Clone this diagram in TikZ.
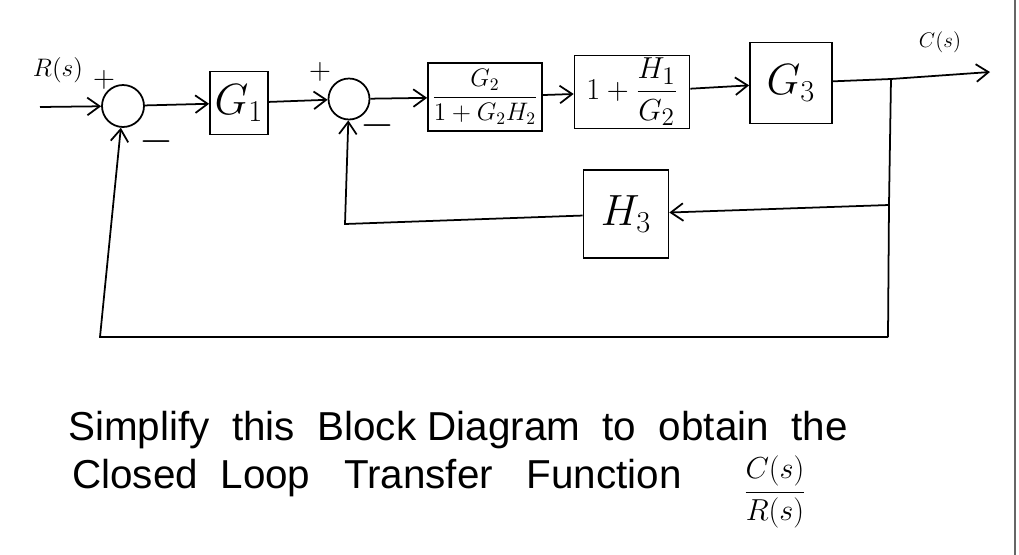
\documentclass[tikz,border=0pt]{standalone}
\usepackage{fontspec}
\setmainfont{Liberation Sans}
\usetikzlibrary{arrows.meta}
\begin{document}
\begin{tikzpicture}[x=0.02cm,y=-0.02cm,
  wire/.style={line width=1pt},
  arr/.style={wire,-{Straight Barb[length=7pt,width=10pt,line width=1pt]}},
  blk/.style={draw,line width=1pt,inner sep=0pt,align=center},
  sumj/.style={draw,circle,line width=1pt,minimum size=0.84cm,inner sep=0pt},
  lbl/.style={inner sep=0pt},
  big/.style={font=\fontsize{24}{28}\selectfont},
  mid/.style={font=\fontsize{17}{20}\selectfont},
  b3f/.style={font=\fontsize{19}{22}\selectfont},
  fr2/.style={font=\fontsize{14}{17}\selectfont},
  rsf/.style={font=\fontsize{15}{18}\selectfont},
  sml/.style={font=\fontsize{13}{16}\selectfont},
  txt/.style={font=\fontsize{23}{27}\selectfont,inner sep=0pt},
]
\useasboundingbox (0,0) rectangle (1019,555);
\fill[white] (0,0) rectangle (1019,555);
\draw[black!60,line width=0.8pt] (1015,0) -- (1015,555);

% blocks
\node[sumj] (s1) at (123,106) {};
\node[blk,big,minimum width=1.16cm,minimum height=1.26cm] (g1) at (239,103) {$G_1$};
\node[sumj,minimum size=0.82cm] (s2) at (349,99) {};
\node[blk,fr2,minimum width=2.28cm,minimum height=1.36cm] (b2) at (485,97) {$\displaystyle\frac{G_2}{1+G_2H_2}$};
\node[blk,b3f,minimum width=2.3cm,minimum height=1.46cm] (b3) at (632,92) {$1+\displaystyle\frac{H_1}{G_2}$};
\node[blk,big,minimum width=1.64cm,minimum height=1.62cm] (g3) at (791,83) {$G_3$};
\node[blk,big,minimum width=1.7cm,minimum height=1.76cm] (h3) at (626,214) {$H_3$};

% coordinates
\coordinate (in) at (40,107);
\coordinate (bp) at (891,79);
\coordinate (out) at (990,72);
\coordinate (t3) at (889,205);
\coordinate (c2) at (345,224);
\coordinate (br) at (888,337);
\coordinate (bl) at (100,337);

% connectors
\draw[arr] (in) -- (s1);
\draw[arr] (s1) -- (g1);
\draw[arr] (g1) -- (s2);
\draw[arr] (s2) -- (b2);
\draw[arr] (b2) -- (b3);
\draw[arr] (b3) -- (g3);
\draw[arr] (g3) -- (bp) -- (out);
\draw[wire] (bp) -- (t3) -- (br);
\draw[arr] (t3) -- (h3);
\draw[arr] (h3) -- (c2) -- (s2);
\draw[arr] (br) -- (bl) -- (s1);

% labels
\node[lbl,rsf] (rs) at (58,70) {$R(s)$};
\node[lbl,mid] (p1) at (104,80) {$+$};
\node[lbl,big] (m1) at (156,142) {$-$};
\node[lbl,mid] (p2) at (320,72) {$+$};
\node[lbl,big] (m2) at (377,126) {$-$};
\node[lbl,sml] (cs) at (940,42) {$C(s)$};

% text
\node[txt,anchor=west] (t1) at (68,430) {Simplify\ \ this\ \ Block Diagram\ \ to\ \ obtain\ \ the};
\node[txt,anchor=west] (t2) at (72,478) {Closed\ \ Loop\ \ \ Transfer\ \ \ Function};
\node[lbl,mid] (fr) at (775,492) {$\displaystyle\frac{C(s)}{R(s)}$};
\end{tikzpicture}
\end{document}
